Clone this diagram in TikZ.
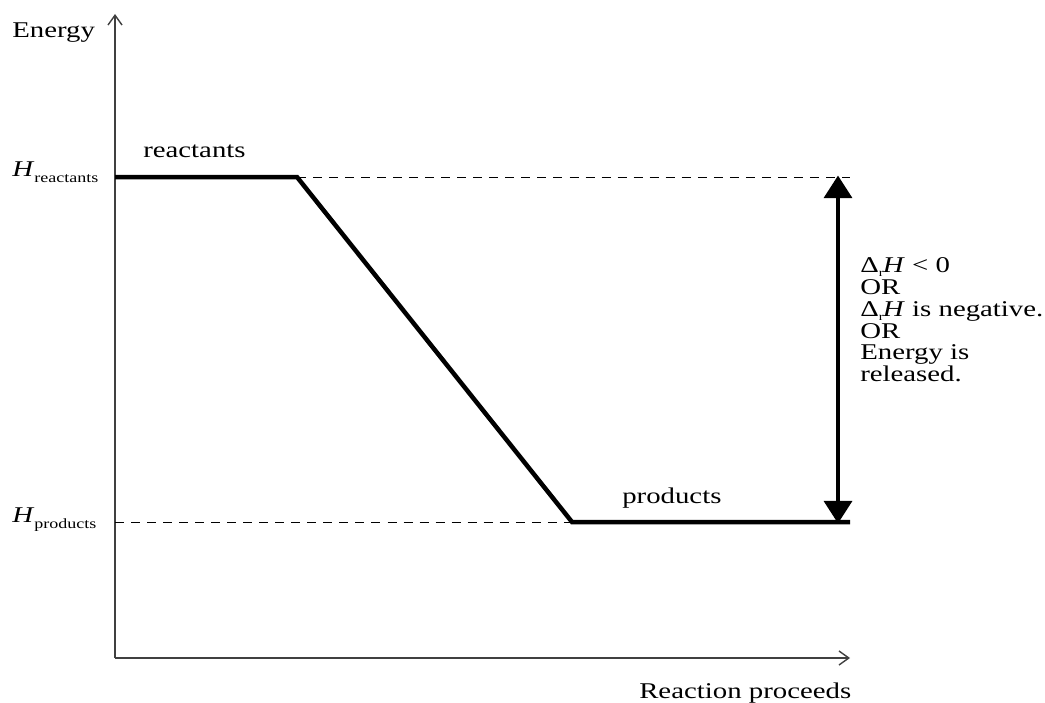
\documentclass[tikz,border=0pt]{standalone}
\usepackage{fontspec}
\setmainfont[FakeStretch=1.28]{Liberation Serif}
\usepackage{tikz}
\usetikzlibrary{arrows.meta}
\newcommand{\Hsub}[1]{\textit{H}\raisebox{-4.5pt}{\fontsize{10}{10}\selectfont #1}}
\newcommand{\DrH}{Δ\raisebox{-3.2pt}{\fontsize{8}{8}\selectfont r}\kern-0.5pt\textit{H}}
\tikzset{
  edlabel/.style={inner sep=0pt, anchor=base west, font=\fontsize{16}{15.6}\selectfont},
  edaxis/.style={-{Straight Barb[length=7pt,width=10pt]}, line width=1pt, draw=black!75},
  edlevel/.style={line width=3.2pt, line join=miter},
  eddash/.style={line width=0.6pt, dash pattern=on 6.4pt off 5pt},
  edarrow/.style={{Triangle[length=16pt,width=20pt]}-{Triangle[length=16pt,width=20pt]}, line width=2.2pt, shorten <=-1pt, shorten >=-1pt}
}
\begin{document}
\begin{tikzpicture}[x=0.025cm, y=-0.025cm]
  \useasboundingbox (0,0) rectangle (1045,703);
  % axes
  \coordinate (origin) at (115,658);
  \coordinate (ytop) at (115,14);
  \coordinate (xend) at (850,658);
  \draw[edaxis] (origin) -- (ytop);
  \draw[edaxis] (origin) -- (xend);
  \node[edlabel] (energy) at (12,38) {Energy};
  \node[edlabel] (proceeds) at (639,698) {Reaction proceeds};
  % enthalpy levels
  \coordinate (rstart) at (115,177);
  \coordinate (rcorner) at (297,177);
  \coordinate (rend) at (850,177);
  \coordinate (pstart) at (115,522);
  \coordinate (pcorner) at (572,522);
  \coordinate (pend) at (850,522);
  \draw[eddash] (rcorner) -- (rend);
  \draw[eddash] (pstart) -- (pcorner);
  \draw[edlevel] (rstart) -- (rcorner) -- (pcorner) -- (pend);
  \node[edlabel] (hreact) at (12,176) {\Hsub{reactants}};
  \node[edlabel] (hprod) at (12,522) {\Hsub{products}};
  \node[edlabel] (react) at (143,157) {reactants};
  \node[edlabel] (prod) at (622,503) {products};
  % enthalpy change
  \coordinate (dtop) at (838,177);
  \coordinate (dbot) at (838,522);
  \draw[edarrow] (dtop) -- (dbot);
  \node[edlabel, align=left, anchor=north west] (change) at (860,257)
    {\DrH\ < 0\\OR\\\DrH\ is negative.\\OR\\Energy is\\released.};
\end{tikzpicture}
\end{document}
